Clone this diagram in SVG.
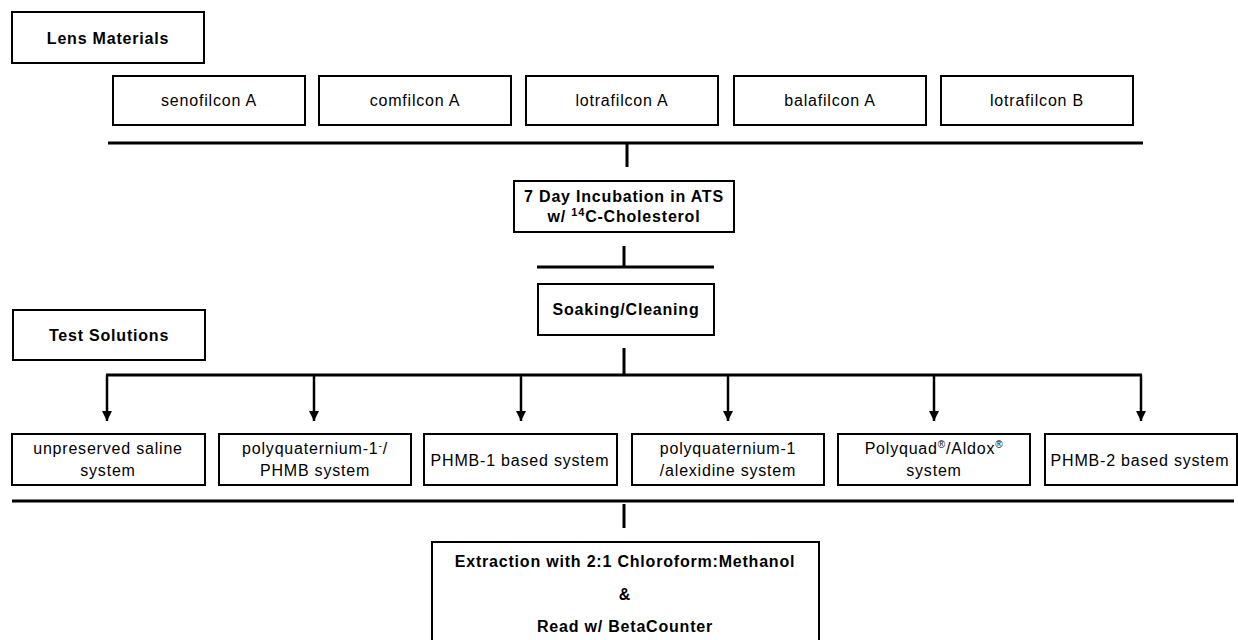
<svg xmlns="http://www.w3.org/2000/svg" width="1238" height="640" viewBox="0 0 1238 640">
<style>
.box{fill:#fff;stroke:#000;stroke-width:2}
.t{font-family:"Liberation Sans",Arial,sans-serif;font-size:16px;fill:#000;text-anchor:middle;letter-spacing:0.8px}
.b{font-weight:bold}
.ln{stroke:#000;stroke-width:3;fill:none}
.ar{stroke:#000;stroke-width:2.5;fill:none}
</style>
<defs>
<marker id="ah" viewBox="0 0 10 10" refX="10" refY="5" markerWidth="4.2" markerHeight="4.2" markerUnits="strokeWidth" orient="auto">
<path d="M0,0 L10,5 L0,10 Z" fill="#000"/>
</marker>
</defs>
<rect width="1238" height="640" fill="#fff"/>
<g id="lens-materials"><rect class="box" x="12" y="12" width="192" height="51"/><text class="t b" x="108" y="44">Lens Materials</text></g>
<g id="senofilcon"><rect class="box" x="113" y="76" width="192" height="49"/><text class="t" x="209" y="106">senofilcon A</text></g>
<g id="comfilcon"><rect class="box" x="319" y="76" width="192" height="49"/><text class="t" x="415" y="106">comfilcon A</text></g>
<g id="lotrafilconA"><rect class="box" x="526" y="76" width="192" height="49"/><text class="t" x="622" y="106">lotrafilcon A</text></g>
<g id="balafilcon"><rect class="box" x="734" y="76" width="192" height="49"/><text class="t" x="830" y="106">balafilcon A</text></g>
<g id="lotrafilconB"><rect class="box" x="941" y="76" width="192" height="49"/><text class="t" x="1037" y="106">lotrafilcon B</text></g>
<g id="incubation"><rect class="box" x="514" y="181" width="220" height="51"/><text class="t b" x="624" y="202">7 Day Incubation in ATS</text><text class="t b" x="624" y="222">w/ <tspan font-size="11" dy="-6">14</tspan><tspan dy="6">C-Cholesterol</tspan></text></g>
<g id="soaking"><rect class="box" x="538" y="284" width="176" height="51"/><text class="t b" x="626" y="315">Soaking/Cleaning</text></g>
<g id="test-solutions"><rect class="box" x="13" y="310" width="192" height="50"/><text class="t b" x="109" y="341">Test Solutions</text></g>
<g id="saline"><rect class="box" x="12" y="434" width="193" height="51"/><text class="t" x="108" y="454">unpreserved saline</text><text class="t" x="108" y="476">system</text></g>
<g id="pq-phmb"><rect class="box" x="219" y="434" width="192" height="51"/><text class="t" x="315" y="454">polyquaternium-1<tspan font-size="10" dy="-5">-</tspan><tspan dy="5">/</tspan></text><text class="t" x="315" y="476">PHMB system</text></g>
<g id="phmb1"><rect class="box" x="424" y="434" width="193" height="51"/><text class="t" x="520" y="466">PHMB-1 based system</text></g>
<g id="pq-alexidine"><rect class="box" x="632" y="434" width="192" height="51"/><text class="t" x="728" y="454">polyquaternium-1</text><text class="t" x="728" y="476">/alexidine system</text></g>
<g id="polyquad"><rect class="box" x="838" y="434" width="192" height="51"/><text class="t" x="934" y="454">Polyquad<tspan font-size="10" dy="-6">®</tspan><tspan dy="6">/Aldox</tspan><tspan font-size="10" dy="-6">®</tspan></text><text class="t" x="934" y="476">system</text></g>
<g id="phmb2"><rect class="box" x="1045" y="434" width="192" height="51"/><text class="t" x="1140" y="466">PHMB-2 based system</text></g>
<g id="extraction"><rect class="box" x="432" y="542" width="387" height="110"/><text class="t b" x="625" y="567">Extraction with 2:1 Chloroform:Methanol</text><text class="t b" x="625" y="600">&amp;</text><text class="t b" x="625" y="632">Read w/ BetaCounter</text></g>
<g id="connectors">
<line class="ln" x1="108" y1="143" x2="1143" y2="143"/>
<line class="ln" x1="627" y1="143" x2="627" y2="167"/>
<line class="ln" x1="624" y1="246" x2="624" y2="267"/>
<line class="ln" x1="537" y1="267" x2="714" y2="267"/>
<line class="ln" x1="624" y1="348" x2="624" y2="375"/>
<line class="ln" x1="106" y1="375" x2="1142" y2="375"/>
<line class="ar" x1="107" y1="375" x2="107" y2="421" marker-end="url(#ah)"/>
<line class="ar" x1="314" y1="375" x2="314" y2="421" marker-end="url(#ah)"/>
<line class="ar" x1="521" y1="375" x2="521" y2="421" marker-end="url(#ah)"/>
<line class="ar" x1="728" y1="375" x2="728" y2="421" marker-end="url(#ah)"/>
<line class="ar" x1="934" y1="375" x2="934" y2="421" marker-end="url(#ah)"/>
<line class="ar" x1="1141" y1="375" x2="1141" y2="421" marker-end="url(#ah)"/>
<line class="ln" x1="12" y1="501" x2="1234" y2="501"/>
<line class="ln" x1="624" y1="504" x2="624" y2="528"/>
</g>
</svg>
